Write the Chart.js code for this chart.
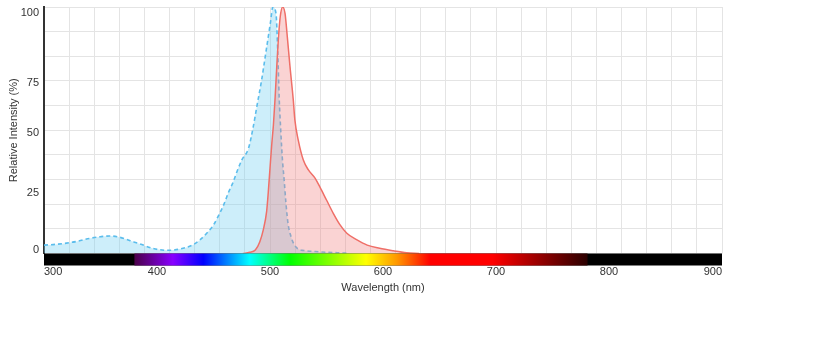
<!DOCTYPE html>
<html>
<head>
<meta charset="utf-8">
<script src="https://cdn.jsdelivr.net/npm/chart.js@4.4.1/dist/chart.umd.min.js"></script>
<style>
  html, body { margin: 0; padding: 0; background: #fff; }
  #wrap { width: 838px; height: 349px; position: relative; }
</style>
</head>
<body>
<div id="wrap"><canvas id="chart"></canvas></div>
<script>
// excitation curve (blue, dashed)
const exNm = [300, 310, 320, 330, 340, 350, 358, 365, 372, 380, 385, 396, 409, 420, 432, 438, 444, 450, 454, 459, 463, 467.5, 471, 475, 481, 485, 488.5, 492.6, 495.5, 498.5, 500.5, 502.5, 505.3, 506.8, 508.2, 509.5, 511, 512.5, 514, 516, 518.5, 521, 525, 530, 540, 550, 560, 570]
const exVal = [3.4, 3.7, 4.2, 5.0, 6.1, 6.8, 7.1, 6.8, 5.9, 4.6, 3.9, 2.1, 1.3, 1.8, 3.6, 5.5, 8.2, 11.6, 15, 19.7, 24.5, 29.1, 33.5, 37.9, 42.7, 51, 60, 70.4, 79, 88, 94, 100, 97.4, 82.6, 62.3, 50, 38, 30, 21, 12, 7, 4, 1.8, 1.2, 0.8, 0.5, 0.3, 0.1]

// emission curve (red, solid)
const emNm = [476, 482, 487, 491, 494, 497, 498.5, 500, 501.5, 503, 504.5, 506, 507, 508.2, 509.5, 511.2, 513.3, 515.3, 517.7, 520.6, 522, 525, 529.5, 534, 540, 544, 550, 556, 562, 568, 577, 586, 597, 609, 621, 632]
const emVal = [0, 0.5, 1.4, 4.8, 9.5, 17, 25, 34.6, 44, 52, 63, 76, 84, 92, 97.5, 100, 97.4, 88, 75.8, 62.3, 54.2, 46, 37.9, 33.9, 30.5, 27.1, 21.7, 16.3, 11.6, 8.2, 5.5, 3.4, 2.1, 1.1, 0.3, 0]

const xLabels = [300, 400, 500, 600, 700, 800, 900]
const yLabels = ['0', '25', '50', '75', '100']
// the original prints its y labels a little off the round values
const yLabelAt = [1.5, 24.5, 49, 69, 97.4]

// colour bar under the plot
const specNm = [380, 414, 441, 482, 518, 585, 612, 642, 697, 781]
const specColors = ['#4a0048', '#8800ff', '#0000ff', '#00ffff', '#00ff00', '#ffff00', '#ff9900', '#ff0000', '#ff0000', '#2a0000']

const toPoints = (xs, ys) => xs.map((x, i) => ({x: x, y: ys[i]}))

const font = {family: "'Liberation Sans', Arial, sans-serif", size: 11}
const textColor = '#333'
const gridColor = '#e4e4e4'

const spectrumBar = {
    id: 'spectrumBar',
    afterDraw(chart) {
        const {ctx, chartArea} = chart
        const x = chart.scales.x
        const top = chartArea.bottom
        const h = 12
        ctx.save()
        ctx.fillStyle = '#000'
        ctx.fillRect(chartArea.left, top, chartArea.right - chartArea.left, h)
        const first = specNm[0]
        const last = specNm[specNm.length - 1]
        const x0 = x.getPixelForValue(first)
        const x1 = x.getPixelForValue(last)
        const grad = ctx.createLinearGradient(x0, 0, x1, 0)
        specNm.forEach((nm, i) => grad.addColorStop((nm - first) / (last - first), specColors[i]))
        ctx.fillStyle = grad
        ctx.fillRect(x0, top, x1 - x0, h)
        ctx.restore()
    }
}

new Chart(document.getElementById('chart'), {
    type: 'line',
    data: {
        datasets: [{
            label: 'Emission',
            data: toPoints(emNm, emVal),
            borderColor: '#ef6f68',
            backgroundColor: 'rgba(240,128,128,0.35)',
            borderWidth: 1.5,
            fill: 'origin',
            pointRadius: 0,
            cubicInterpolationMode: 'monotone',
            xAxisID: 'x',
            yAxisID: 'y'
        }, {
            label: 'Excitation',
            data: toPoints(exNm, exVal),
            borderColor: '#5bbdec',
            borderDash: [4, 3],
            backgroundColor: 'rgba(123,210,242,0.38)',
            borderWidth: 1.6,
            fill: 'origin',
            pointRadius: 0,
            cubicInterpolationMode: 'monotone',
            xAxisID: 'x',
            yAxisID: 'y'
        }]
    },
    options: {
        responsive: true,
        maintainAspectRatio: false,
        animation: false,
        events: [],
        layout: {padding: {left: 0, top: 7, right: 116, bottom: 54.5}},
        plugins: {
            legend: {display: false},
            tooltip: {enabled: false}
        },
        scales: {
            x: {
                type: 'linear', min: 300, max: 900, position: 'bottom',
                afterBuildTicks: (axis) => { axis.ticks = xLabels.map(v => ({value: v})) },
                afterFit: (axis) => { axis.height = 41; axis.paddingLeft = 0; axis.paddingRight = 0 },
                grid: {display: false, drawTicks: false},
                border: {display: false},
                ticks: {align: 'inner', padding: 12, color: textColor, font: font, autoSkip: false, maxRotation: 0},
                title: {display: true, text: 'Wavelength (nm)', color: textColor, font: font, padding: {top: 0, bottom: 0}}
            },
            xg: {
                type: 'linear', min: 300, max: 900, position: 'top',
                afterBuildTicks: (axis) => { axis.ticks = Array.from({length: 28}, (_, k) => ({value: 300 + k * 600 / 27})) },
                afterFit: (axis) => { axis.height = 0 },
                ticks: {display: false},
                grid: {color: gridColor, drawTicks: false},
                border: {display: false}
            },
            y: {
                type: 'linear', min: 0, max: 100, position: 'left',
                afterBuildTicks: (axis) => { axis.ticks = yLabelAt.map(v => ({value: v})) },
                afterFit: (axis) => { axis.width = 44; axis.paddingTop = 0; axis.paddingBottom = 0 },
                grid: {display: false, drawTicks: false},
                border: {color: '#333', width: 2},
                ticks: {padding: 5, color: textColor, font: font, autoSkip: false, callback: (v, i) => yLabels[i]},
                title: {display: true, text: 'Relative Intensity (%)', color: textColor, font: font, padding: {top: 7, bottom: 0}}
            },
            yg: {
                type: 'linear', min: 0, max: 100, position: 'right',
                afterBuildTicks: (axis) => { axis.ticks = Array.from({length: 11}, (_, k) => ({value: k * 10})) },
                afterFit: (axis) => { axis.width = 0 },
                ticks: {display: false},
                grid: {color: gridColor, drawTicks: false},
                border: {display: false}
            }
        }
    },
    plugins: [spectrumBar]
})
</script>
</body>
</html>
